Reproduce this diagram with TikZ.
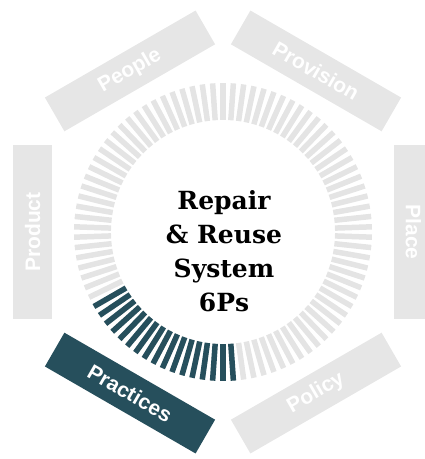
\documentclass[tikz,border=0pt]{standalone}
\usepackage{fontspec}
\newfontfamily\sidefont{Liberation Sans}
\newfontfamily\titlefont{DejaVu Serif}
\definecolor{barGrey}{HTML}{E4E4E4}
\definecolor{sideGrey}{HTML}{E6E6E6}
\definecolor{darkTeal}{HTML}{264F5C}

\begin{document}
\begin{tikzpicture}[x=1pt, y=1pt,
  side/.style={fill=sideGrey, text=white, inner sep=0pt,
    minimum width=174pt, minimum height=39pt,
    font=\sidefont\bfseries\fontsize{21}{24}\selectfont},
  tick/.style={line width=5.5pt, barGrey},
  darktick/.style={tick, darkTeal}]
  \useasboundingbox (-223,-227) rectangle (202,232);

  % Ring of bars, one every 4 degrees
  \foreach \i in {0,...,89} {
    \pgfmathsetmacro{\ang}{2+4*\i}
    \draw[tick] (\ang:112) -- (\ang:149);
  }
  % Highlighted part of the ring
  \foreach \i in {52,...,68} {
    \pgfmathsetmacro{\ang}{2+4*\i}
    \draw[darktick] (\ang:112) -- (\ang:149);
  }

  % The six Ps round the ring
  \node[side, rotate=-90] (place) at (0:190.5) {Place};
  \node[side, rotate=-30] (provision) at (60:186) {Provision};
  \node[side, rotate=30] (people) at (120:186) {People};
  \node[side, rotate=90] (product) at (180:190.5) {Product};
  \node[side, rotate=-30, fill=darkTeal] (practices) at (240:186) {Practices};
  \node[side, rotate=30] (policy) at (300:186) {Policy};

  % Title in the middle
  \node[align=center, font=\titlefont\bfseries\fontsize{25}{34}\selectfont]
    (title) at (1,-19) {Repair\\\& Reuse\\System\\6Ps};
\end{tikzpicture}
\end{document}
